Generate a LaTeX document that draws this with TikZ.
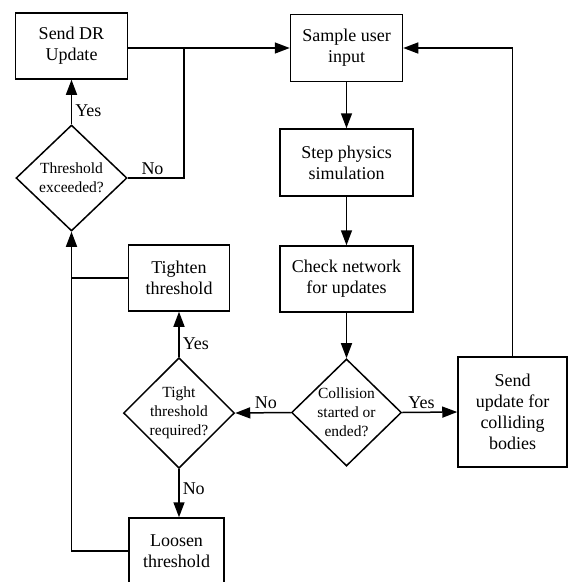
\documentclass[tikz,border=0pt]{standalone}
\usepackage{fontspec}
\setmainfont{Liberation Serif}
\usetikzlibrary{shapes.geometric,arrows.meta}

\begin{document}
\begin{tikzpicture}[
			x=1pt, y=-1pt,
			line width=1.5pt,
			box/.style = {draw, align=center, inner sep=0pt, font=\fontsize{18}{21}\selectfont},
			decision/.style = {draw, diamond, align=center, inner sep=0pt, font=\fontsize{15.5}{19}\selectfont},
			arr/.style = {-{Triangle[length=15pt,width=11pt]}},
			lbl/.style = {font=\fontsize{18}{21}\selectfont, inner sep=3pt},
		]
		\useasboundingbox (0,0) rectangle (568,582);
		\node[box, minimum width=112pt, minimum height=66pt] (dr) at (71.5,46) {Send DR\\Update};
		\node[decision, minimum width=111pt, minimum height=106pt] (thr) at (71.5,178) {Threshold\\exceeded?};
		\node[box, minimum width=112pt, minimum height=67pt] (sample) at (346.5,48) {Sample user\\input};
		\node[box, minimum width=133pt, minimum height=67pt] (step) at (346.5,162.5) {Step physics\\simulation};
		\node[box, minimum width=133pt, minimum height=66pt] (check) at (346.5,279) {Check network\\for updates};
		\node[decision, minimum width=110pt, minimum height=107pt] (coll) at (346.5,412.5) {Collision\\started or\\ended?};
		\node[box, minimum width=109pt, minimum height=110pt] (upd) at (512.5,412) {Send\\update for\\colliding\\bodies};
		\node[decision, minimum width=111pt, minimum height=106pt] (tight) at (179,413) {Tight\\threshold\\required?};
		\node[box, minimum width=101pt, minimum height=66pt] (tighten) at (179,278) {Tighten\\threshold};
		\node[box, minimum width=95pt, minimum height=66pt] (loosen) at (176.5,551) {Loosen\\threshold};
		\coordinate (j) at (184,48);

		\draw[arr] (dr.east |- sample.west) -- (sample.west);
		\draw (thr.east) -| (j) node[lbl, above, pos=0.22] {No};
		\draw[arr] (thr.north) -- (dr.south) node[lbl, right, pos=0.3] {Yes};
		\draw[arr] (sample) -- (step);
		\draw[arr] (step) -- (check);
		\draw[arr] (check) -- (coll);
		\draw[arr] (coll.east) -- (upd.west) node[lbl, above, pos=0.35] {Yes};
		\draw[arr] (upd.north) |- (sample.east);
		\draw[arr] (coll.west) -- (tight.east) node[lbl, above, pos=0.45] {No};
		\draw[arr] (tight.north) -- (tighten.south) node[lbl, right, pos=0.3] {Yes};
		\draw[arr] (tight.south) -- (tight.south |- loosen.north) node[lbl, right, pos=0.4] {No};
		\draw[arr] (loosen.west) -| (thr.south);
		\draw (tighten.west) -- (tighten.west -| thr.south);
	\end{tikzpicture}
\end{document}
